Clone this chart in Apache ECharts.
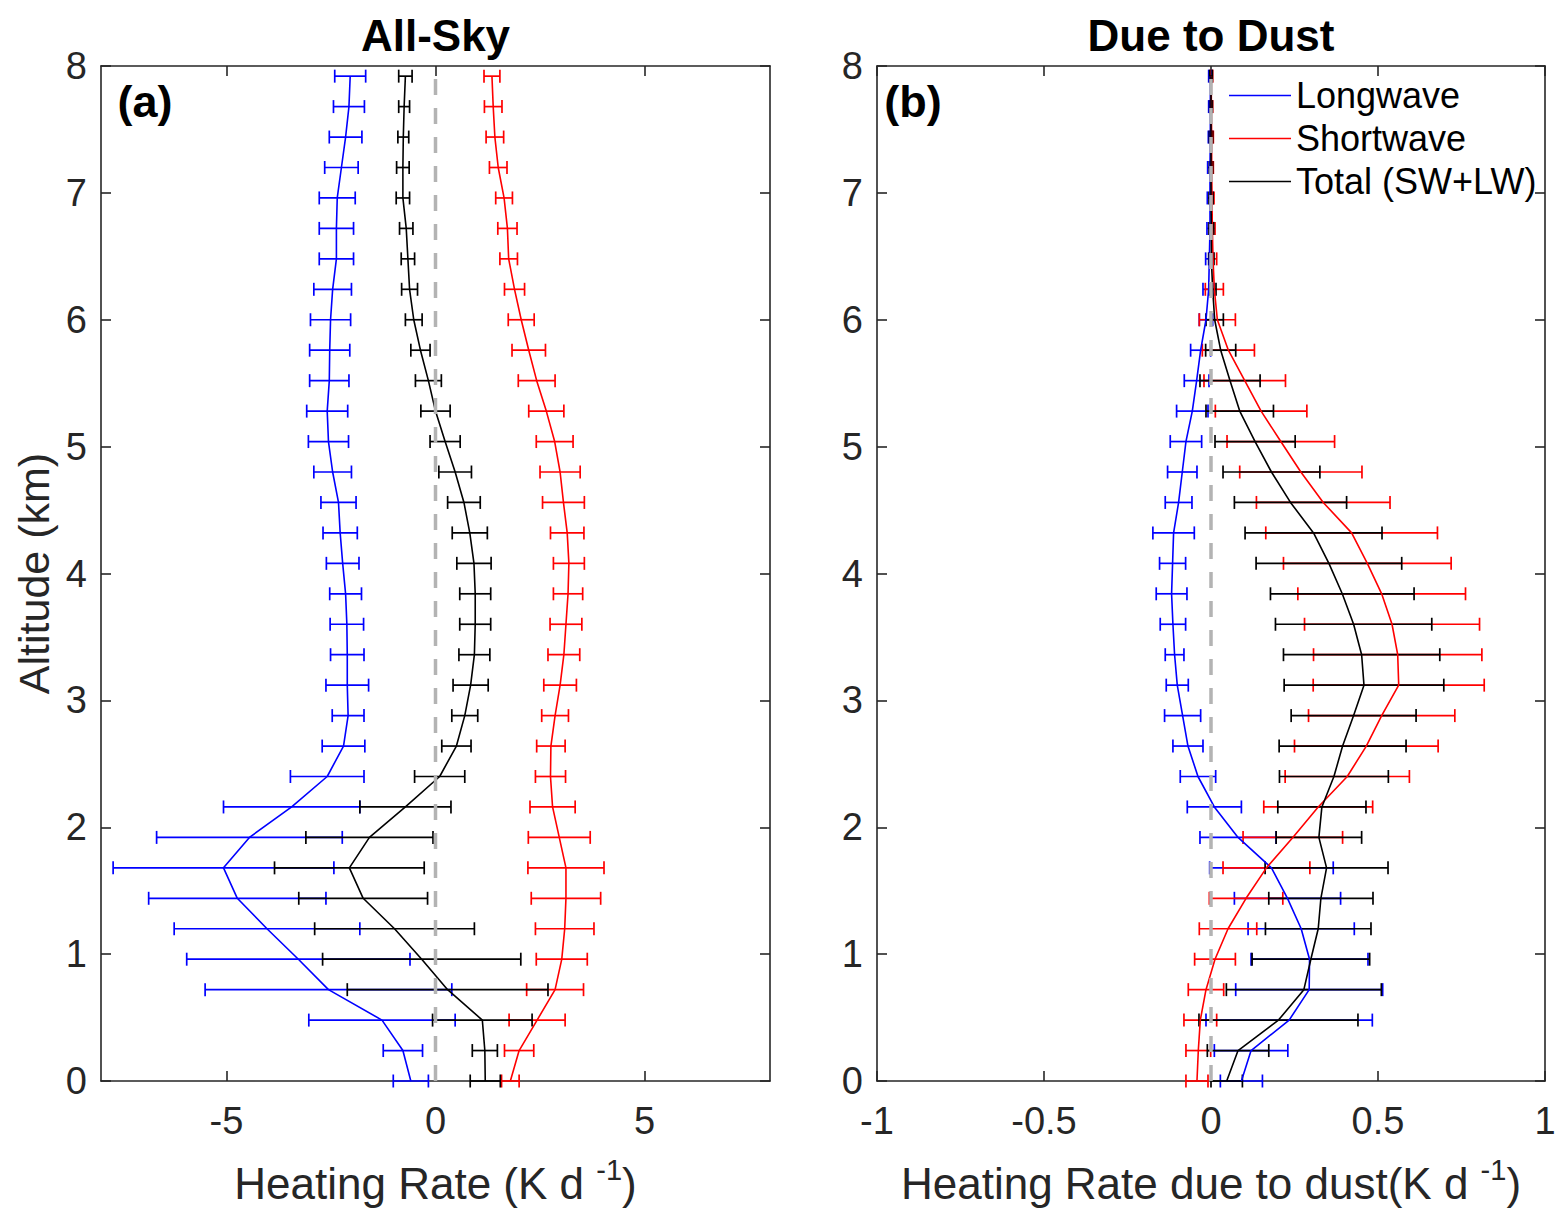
<!DOCTYPE html>
<html>
<head>
<meta charset="utf-8">
<script src="https://cdn.jsdelivr.net/npm/echarts@6/dist/echarts.min.js"></script>
<style>
html,body{margin:0;padding:0;background:#fff;}
#chart{width:1566px;height:1227px;}
</style>
</head>
<body>
<div id="chart"></div>
<script>
// ---------------- DATA ----------------
const altitude = [0,0.24,0.48,0.72,0.96,1.2,1.44,1.68,1.92,2.16,2.4,2.64,2.88,3.12,3.36,3.6,3.84,4.08,4.32,4.56,4.8,5.04,5.28,5.52,5.76,6.0,6.24,6.48,6.72,6.96,7.2,7.44,7.68,7.92];

// Panel (a) All-Sky heating rate (K/d)
const allLW    = [-0.59,-0.78,-1.28,-2.56,-3.28,-4.03,-4.74,-5.07,-4.45,-3.44,-2.59,-2.20,-2.09,-2.11,-2.11,-2.12,-2.15,-2.22,-2.28,-2.32,-2.46,-2.56,-2.59,-2.54,-2.53,-2.51,-2.46,-2.37,-2.37,-2.35,-2.25,-2.15,-2.07,-2.04];
const allLWErr = [0.42,0.47,1.75,2.95,2.67,2.22,2.12,2.64,2.22,1.63,0.88,0.51,0.38,0.51,0.40,0.40,0.38,0.39,0.41,0.42,0.45,0.48,0.49,0.47,0.48,0.48,0.45,0.41,0.41,0.43,0.40,0.39,0.37,0.37];
const allSW    = [1.79,2.00,2.43,2.86,3.02,3.09,3.12,3.12,2.96,2.80,2.75,2.76,2.86,2.98,3.07,3.12,3.17,3.19,3.15,3.06,2.98,2.85,2.65,2.42,2.23,2.05,1.89,1.75,1.72,1.64,1.50,1.42,1.38,1.35];
const allSWErr = [0.21,0.35,0.67,0.68,0.61,0.70,0.83,0.91,0.74,0.54,0.36,0.34,0.32,0.39,0.38,0.38,0.35,0.37,0.40,0.50,0.48,0.44,0.42,0.44,0.40,0.31,0.24,0.21,0.23,0.20,0.21,0.21,0.21,0.19];
const allTot    = [1.19,1.18,1.12,0.29,-0.33,-0.98,-1.73,-2.06,-1.58,-0.72,0.10,0.50,0.70,0.84,0.93,0.95,0.95,0.92,0.82,0.68,0.47,0.23,0.00,-0.17,-0.36,-0.52,-0.62,-0.66,-0.70,-0.78,-0.78,-0.77,-0.75,-0.72];
const allTotErr = [0.36,0.30,1.19,2.40,2.37,1.91,1.54,1.79,1.52,1.09,0.60,0.35,0.31,0.42,0.37,0.37,0.37,0.41,0.42,0.39,0.39,0.36,0.35,0.31,0.23,0.20,0.19,0.16,0.16,0.16,0.15,0.13,0.13,0.16];

// Panel (b) heating rate due to dust (K/d)
const dustLW    = [0.091,0.120,0.234,0.294,0.295,0.270,0.229,0.181,0.081,0.010,-0.039,-0.069,-0.085,-0.101,-0.109,-0.114,-0.118,-0.115,-0.112,-0.097,-0.086,-0.075,-0.056,-0.043,-0.031,-0.015,-0.007,-0.005,-0.003,-0.003,-0.003,-0.002,-0.002,-0.002];
const dustLWErr = [0.063,0.110,0.249,0.220,0.175,0.159,0.159,0.185,0.114,0.081,0.053,0.045,0.054,0.033,0.028,0.038,0.046,0.039,0.062,0.040,0.044,0.047,0.047,0.037,0.030,0.020,0.017,0.011,0.009,0.008,0.007,0.006,0.005,0.005];
const dustSW    = [-0.042,-0.038,-0.032,-0.015,0.012,0.051,0.105,0.166,0.245,0.321,0.408,0.465,0.511,0.562,0.559,0.542,0.511,0.468,0.421,0.336,0.269,0.209,0.150,0.101,0.052,0.019,0.010,0.006,0.004,0.003,0.002,0.002,0.001,0.001];
const dustSWErr = [0.033,0.037,0.049,0.053,0.061,0.086,0.110,0.130,0.149,0.163,0.186,0.215,0.219,0.256,0.252,0.262,0.251,0.251,0.257,0.200,0.183,0.161,0.137,0.122,0.078,0.054,0.027,0.011,0.008,0.006,0.005,0.005,0.004,0.004];
const dustTot    = [0.047,0.081,0.202,0.278,0.299,0.321,0.329,0.346,0.323,0.332,0.368,0.394,0.427,0.458,0.451,0.427,0.393,0.353,0.307,0.238,0.181,0.132,0.086,0.057,0.029,0.011,0.005,0.001,0.001,0,0,0,0,0];
const dustTotErr = [0.047,0.092,0.238,0.232,0.176,0.158,0.156,0.184,0.128,0.132,0.163,0.190,0.187,0.239,0.234,0.234,0.215,0.218,0.205,0.168,0.145,0.120,0.101,0.090,0.045,0.026,0.010,0.008,0.007,0.006,0.005,0.005,0.004,0.004];

const seriesNames = ['Longwave','Shortwave','Total (SW+LW)'];
const panelTitles = ['All-Sky','Due to Dust'];
const panelLetters = ['(a)','(b)'];
const xTicksA = [-5,0,5];
const zeroRef = [[0,0],[0,8]];

// ---------------- STYLE ----------------
const FONT = '"Liberation Sans", Arial, Helvetica, sans-serif';
const AX = '#262626';
const COLORS = ['#0000ff','#ff0000','#000000'];

function pairs(xs){ return xs.map((v,i)=>[v, altitude[i]]); }
function errData(xs, es){ return xs.map((v,i)=>[v, es[i], altitude[i]]); }

function errSeries(xs, es, color, idx){
  return {
    type:'custom', name:'err'+idx+color, xAxisIndex:idx*2, yAxisIndex:idx*2,
    data: errData(xs, es), encode:{x:0, y:2}, silent:true,
    renderItem: function(params, api){
      const x = api.value(0), e = api.value(1), y = api.value(2);
      const p1 = api.coord([x-e, y]), p2 = api.coord([x+e, y]);
      const h = 6.5;
      const st = {stroke: color, lineWidth: 1.7};
      return {type:'group', children:[
        {type:'line', shape:{x1:p1[0],y1:p1[1],x2:p2[0],y2:p2[1]}, style:st},
        {type:'line', shape:{x1:p1[0],y1:p1[1]-h,x2:p1[0],y2:p1[1]+h}, style:st},
        {type:'line', shape:{x1:p2[0],y1:p2[1]-h,x2:p2[0],y2:p2[1]+h}, style:st}
      ]};
    }
  };
}
function lineSeries(xs, color, name, idx){
  return {
    type:'line', name:name, xAxisIndex:idx*2, yAxisIndex:idx*2,
    data: pairs(xs), symbol:'none', showSymbol:false, smooth:false,
    lineStyle:{color:color, width:1.6}, itemStyle:{color:color}, silent:true
  };
}
function zeroSeries(idx){
  return {
    type:'line', name:'zero'+idx, xAxisIndex:idx*2, yAxisIndex:idx*2,
    data: zeroRef, symbol:'none', silent:true, z:5,
    lineStyle:{color:'#b3b3b3', width:3.5, type:[16,13]}
  };
}

const grids = [
  {left:101, top:66, width:669, height:1015},
  {left:877, top:66, width:668, height:1015}
];
const letterX = [145, 913];

function xName(txt){
  return '{n|' + txt + ' }{s|-1}{n|)}';
}
const nameRich = {
  n:{fontSize:44, fontFamily:FONT, color:AX, lineHeight:56},
  s:{fontSize:29, fontFamily:FONT, color:AX, lineHeight:30, verticalAlign:'top'}
};

function xAxes(gi, min, max, interval, custom, name){
  const base = {gridIndex:gi, type:'value', min:min, max:max, splitLine:{show:false},
    axisLine:{show:true, onZero:false, lineStyle:{color:AX, width:1.6}}};
  const tick = {show:true, inside:true, length:10, lineStyle:{color:AX, width:1.6}};
  if (custom) tick.customValues = custom;
  const lab = {show:true, fontSize:38, fontFamily:FONT, color:AX, margin:21};
  if (custom) lab.customValues = custom;
  const bottom = Object.assign({}, base, {position:'bottom', axisTick:tick, axisLabel:lab,
    name:name, nameLocation:'middle', nameGap:74, nameTextStyle:{rich:nameRich, fontSize:44, fontFamily:FONT, color:AX}});
  const top = Object.assign({}, base, {position:'top', axisTick:Object.assign({}, tick), axisLabel:{show:false}});
  if (interval) { bottom.interval = interval; top.interval = interval; }
  return [bottom, top];
}
function yAxes(gi, withName){
  const base = {gridIndex:gi, type:'value', min:0, max:8, interval:1, splitLine:{show:false},
    axisLine:{show:true, onZero:false, lineStyle:{color:AX, width:1.6}},
    axisTick:{show:true, inside:true, length:10, lineStyle:{color:AX, width:1.6}}};
  const left = Object.assign({}, base, {position:'left',
    axisLabel:{show:true, fontSize:38, fontFamily:FONT, color:AX, margin:14}});
  if (withName) {
    left.name = 'Altitude (km)';
    left.nameLocation = 'middle';
    left.nameGap = 46;
    left.nameTextStyle = {fontSize:43, fontFamily:FONT, color:AX};
  }
  const right = Object.assign({}, base, {position:'right', axisLabel:{show:false}});
  return [left, right];
}

const xAxis = [].concat(
  xAxes(0, -8, 8, null, xTicksA, xName('Heating Rate (K d')),
  xAxes(1, -1, 1, 0.5, null, xName('Heating Rate due to dust(K d'))
);
const yAxis = [].concat(yAxes(0, true), yAxes(1, false));

const series = [];
[[allLW,allLWErr,allSW,allSWErr,allTot,allTotErr],[dustLW,dustLWErr,dustSW,dustSWErr,dustTot,dustTotErr]].forEach((p, idx)=>{
  for (let s=0; s<3; s++){
    series.push(errSeries(p[2*s], p[2*s+1], COLORS[s], idx));
    series.push(lineSeries(p[2*s], COLORS[s], seriesNames[s], idx));
  }
  series.push(zeroSeries(idx));
});

const graphic = [];
panelTitles.forEach((t,i)=>{
  const cx = grids[i].left + grids[i].width/2;
  graphic.push({type:'text', x:cx, y:35, style:{text:t, font:'bold 44px ' + FONT, fill:'#000',
    textAlign:'center', textVerticalAlign:'middle', align:'center', verticalAlign:'middle'}});
  graphic.push({type:'text', x:letterX[i], y:101, style:{text:panelLetters[i], font:'bold 45px ' + FONT, fill:'#000',
    textAlign:'center', textVerticalAlign:'middle', align:'center', verticalAlign:'middle'}});
});

const option = {
  animation:false,
  backgroundColor:'#ffffff',
  grid: grids,
  xAxis: xAxis,
  yAxis: yAxis,
  legend:{
    data: seriesNames, orient:'vertical', left:1229, top:74,
    icon:'rect', itemWidth:62, itemHeight:1.6, itemGap:0, selectedMode:false,
    textStyle:{fontSize:36, fontFamily:FONT, color:'#000', lineHeight:43},
    backgroundColor:'rgba(255,255,255,0)', borderWidth:0, padding:0
  },
  graphic: graphic,
  series: series
};

const chart = echarts.init(document.getElementById('chart'), null, {renderer:'svg'});
chart.setOption(option);
</script>
</body>
</html>
